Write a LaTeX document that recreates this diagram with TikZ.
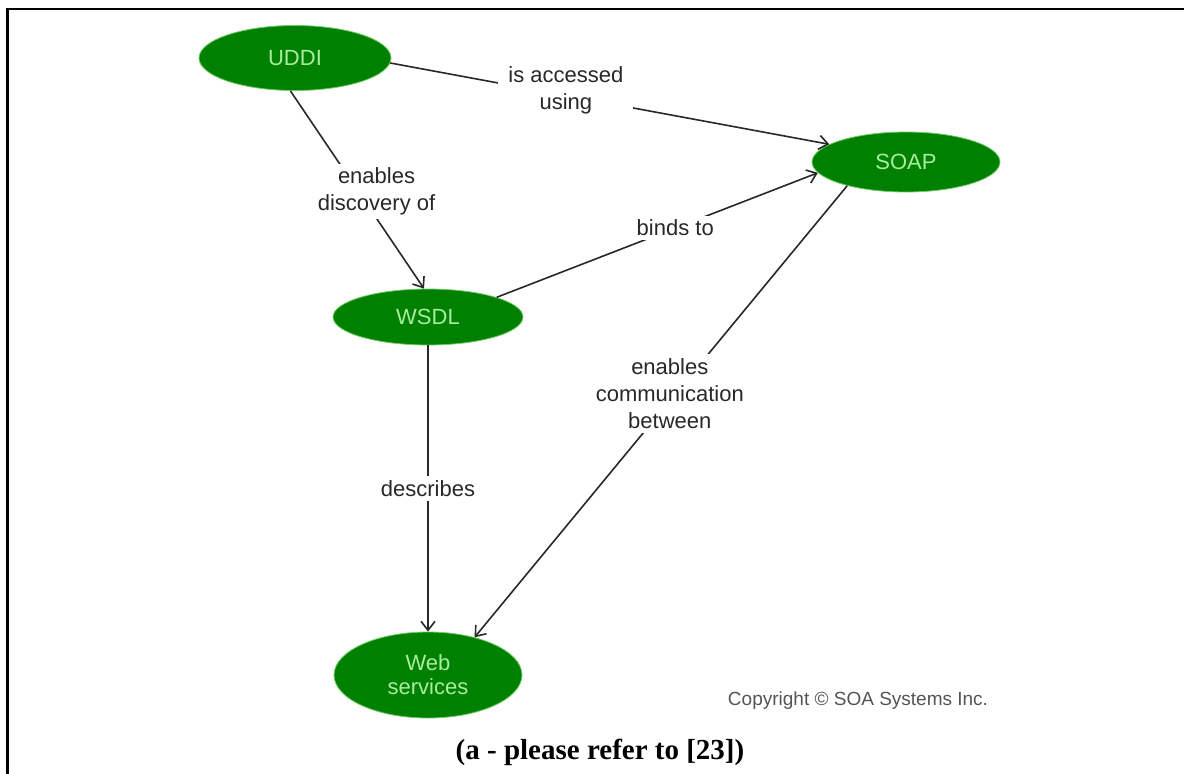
\documentclass[tikz,border=0pt]{standalone}
\usepackage{fontspec}
\setmainfont{Liberation Serif}
\newfontfamily\diagfont{Liberation Sans}
\usetikzlibrary{shapes.geometric,arrows.meta}
\definecolor{nodegreen}{RGB}{0,128,0}
\definecolor{nodetext}{RGB}{168,238,158}
\definecolor{rimgreen}{RGB}{110,205,100}
\definecolor{linegray}{RGB}{40,40,40}
\definecolor{notegray}{RGB}{85,85,85}
\begin{document}
\begin{tikzpicture}[x=1pt,y=-1pt,
  concept/.style={ellipse, fill=nodegreen, draw=rimgreen, line width=0.8pt,
    inner sep=0pt, text=nodetext, align=center,
    font=\diagfont\fontsize{22}{24}\selectfont},
  link/.style={draw=linegray, line width=1.6pt,
    -{Straight Barb[length=9pt,width=14pt,line width=1.6pt]}},
  linklabel/.style={fill=white, text=linegray, align=center,
    inner xsep=10pt, inner ysep=4pt,
    font=\diagfont\fontsize{22}{27}\selectfont}
]
\useasboundingbox (0,0) rectangle (1184,774);
\fill[white] (0,0) rectangle (1184,774);

% frame of the enclosing cell
\draw[line width=2.5pt] (7.5,774) -- (7.5,9) -- (1184,9);

% concepts
\node[concept, minimum width=192pt, minimum height=65pt] (uddi) at (295,58) {UDDI};
\node[concept, minimum width=188pt, minimum height=60pt] (soap) at (906,162) {SOAP};
\node[concept, minimum width=190pt, minimum height=56pt] (wsdl) at (428,317) {WSDL};
\node[concept, minimum width=188pt, minimum height=86pt] (web) at (428,675) {Web\\services};

% relations
\draw[link] (uddi.-3) -- node[linklabel, pos=0.40, yshift=5pt] (lacc) {is accessed\\using} (soap.167);
\draw[link] (uddi.-98) -- node[linklabel, pos=0.51, xshift=18pt] (ldisc) {enables\\discovery of} (wsdl.98);
\draw[link] (wsdl.16) -- node[linklabel, pos=0.556] (lbind) {binds to} (soap.187);
\draw[link] (soap.202) -- node[linklabel, pos=0.46, xshift=-6pt] (lcomm) {enables\\communication\\between} (web.39.5);
\draw[link] (wsdl.south) -- node[linklabel, pos=0.5] (ldesc) {describes} (web.north);

% notes
\node[font=\diagfont\fontsize{19}{22}\selectfont, text=notegray] (copy) at (858,701) {Copyright © SOA Systems Inc.};
\node[font=\bfseries\fontsize{29}{33}\selectfont] (caption) at (600,752) {(a - please refer to [23])};
\end{tikzpicture}
\end{document}
